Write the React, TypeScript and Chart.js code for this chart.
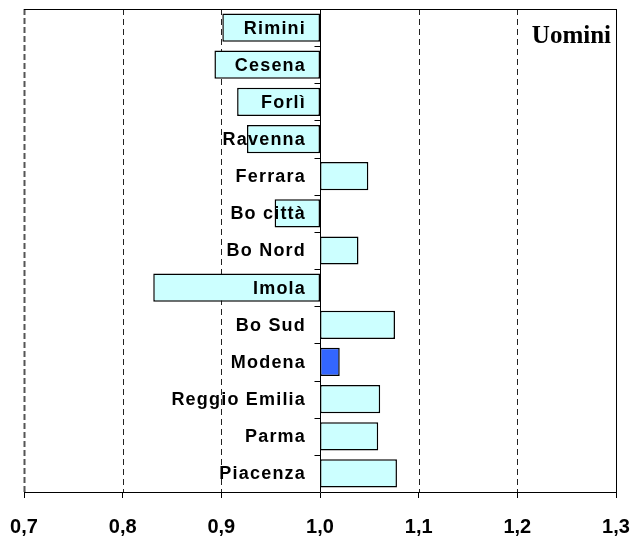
import React, { useEffect, useRef } from "react";
import { Chart, registerables } from "chart.js";

Chart.register(...registerables);

const categories = [
  "Rimini", "Cesena", "Forlì", "Ravenna", "Ferrara", "Bo città", "Bo Nord",
  "Imola", "Bo Sud", "Modena", "Reggio Emilia", "Parma", "Piacenza",
];
const values = [
  0.901, 0.893, 0.916, 0.926, 1.049, 0.954, 1.039,
  0.831, 1.076, 1.020, 1.061, 1.059, 1.078,
];
const highlighted = "Modena";
const baseValue = 1.0;
const xMin = 0.7;
const xMax = 1.3;
const xStep = 0.1;
const panelTitle = "Uomini";

const overlayPlugin = {
  id: "overlay",
  beforeDatasetsDraw(chart: any) {
    const { ctx, chartArea, scales } = chart;
    const xs = scales.x;
    const ys = scales.y;
    ctx.save();
    for (let v = xMin; v <= xMax + 1e-9; v += xStep) {
      const val = Math.round(v * 10) / 10;
      const px = Math.round(xs.getPixelForValue(val)) + 0.5;
      ctx.beginPath();
      if (Math.abs(val - xMin) < 1e-6) {
        ctx.setLineDash([6, 3]);
        ctx.strokeStyle = "#555";
        ctx.lineWidth = 2;
      } else if (Math.abs(val - baseValue) < 1e-6 || Math.abs(val - xMax) < 1e-6) {
        ctx.setLineDash([]);
        ctx.strokeStyle = "#000";
        ctx.lineWidth = 1;
      } else {
        ctx.setLineDash([6, 4]);
        ctx.strokeStyle = "#222";
        ctx.lineWidth = 1;
      }
      ctx.moveTo(px, chartArea.top);
      ctx.lineTo(px, chartArea.bottom);
      ctx.stroke();
    }
    ctx.setLineDash([]);
    ctx.strokeStyle = "#000";
    ctx.lineWidth = 1;
    ctx.beginPath();
    ctx.moveTo(chartArea.left, Math.round(chartArea.top) + 0.5);
    ctx.lineTo(chartArea.right, Math.round(chartArea.top) + 0.5);
    ctx.stroke();
    const x1 = Math.round(xs.getPixelForValue(baseValue)) + 0.5;
    const n = categories.length;
    const step = (ys.bottom - ys.top) / n;
    ctx.beginPath();
    for (let k = 1; k < n; k++) {
      const py = Math.round(ys.top + k * step) + 0.5;
      ctx.moveTo(x1 - 6, py);
      ctx.lineTo(x1, py);
    }
    ctx.stroke();
    ctx.restore();
  },
  afterDatasetsDraw(chart: any) {
    const { ctx, chartArea, scales } = chart;
    const xs = scales.x;
    const ys = scales.y;
    ctx.save();
    const x1 = xs.getPixelForValue(baseValue);
    ctx.fillStyle = "#000";
    ctx.font = "bold 18px 'Liberation Sans', Arial, sans-serif";
    (ctx as any).letterSpacing = "1.2px";
    ctx.textAlign = "right";
    ctx.textBaseline = "middle";
    categories.forEach((c, i) => {
      const py = ys.getPixelForValue(i);
      ctx.fillText(c, x1 - 14, py + 1);
    });
    (ctx as any).letterSpacing = "0px";
    ctx.font = "bold 25px 'Liberation Serif', 'Times New Roman', serif";
    ctx.textAlign = "right";
    ctx.textBaseline = "alphabetic";
    ctx.fillText(panelTitle, chartArea.right - 5, chartArea.top + 34);
    ctx.restore();
  },
};

export default function App() {
  const ref = useRef<HTMLCanvasElement | null>(null);
  useEffect(() => {
    if (!ref.current) return;
    const chart = new Chart(ref.current, {
      type: "bar",
      data: {
        labels: categories,
        datasets: [
          {
            data: values.map((v) => [baseValue, v]) as any,
            backgroundColor: categories.map((c) => (c === highlighted ? "#3366FF" : "#CCFFFF")),
            borderColor: "#000",
            borderWidth: 1.5,
            borderSkipped: false,
            barPercentage: 0.76,
            categoryPercentage: 1,
          },
        ],
      },
      options: {
        indexAxis: "y",
        animation: false,
        responsive: false,
        maintainAspectRatio: false,
        layout: { padding: { left: 24, right: 17, top: 9, bottom: -17 } },
        plugins: { legend: { display: false }, tooltip: { enabled: false }, title: { display: false } },
        scales: {
          x: {
            type: "linear",
            min: xMin,
            max: xMax,
            afterFit: (scale: any) => {
              scale.paddingLeft = 0;
              scale.paddingRight = 0;
            },
            ticks: {
              stepSize: xStep,
              color: "#000",
              padding: 17,
              font: { family: "'Liberation Sans', Arial, sans-serif", size: 20, weight: "bold" },
              callback: (v: any) => Number(v).toFixed(1).replace(".", ","),
            },
            grid: {
              drawOnChartArea: false,
              drawTicks: true,
              tickLength: 6,
              tickColor: "#000",
              color: "#000",
            },
            border: { display: true, color: "#000", width: 1 },
          },
          y: {
            type: "category",
            display: false,
          },
        },
      },
      plugins: [overlayPlugin],
    });
    return () => chart.destroy();
  }, []);
  return (
    <div style={{ position: "absolute", left: 0, top: 0, width: 633, height: 539, background: "#fff" }}>
      <canvas ref={ref} width={633} height={539} />
    </div>
  );
}
